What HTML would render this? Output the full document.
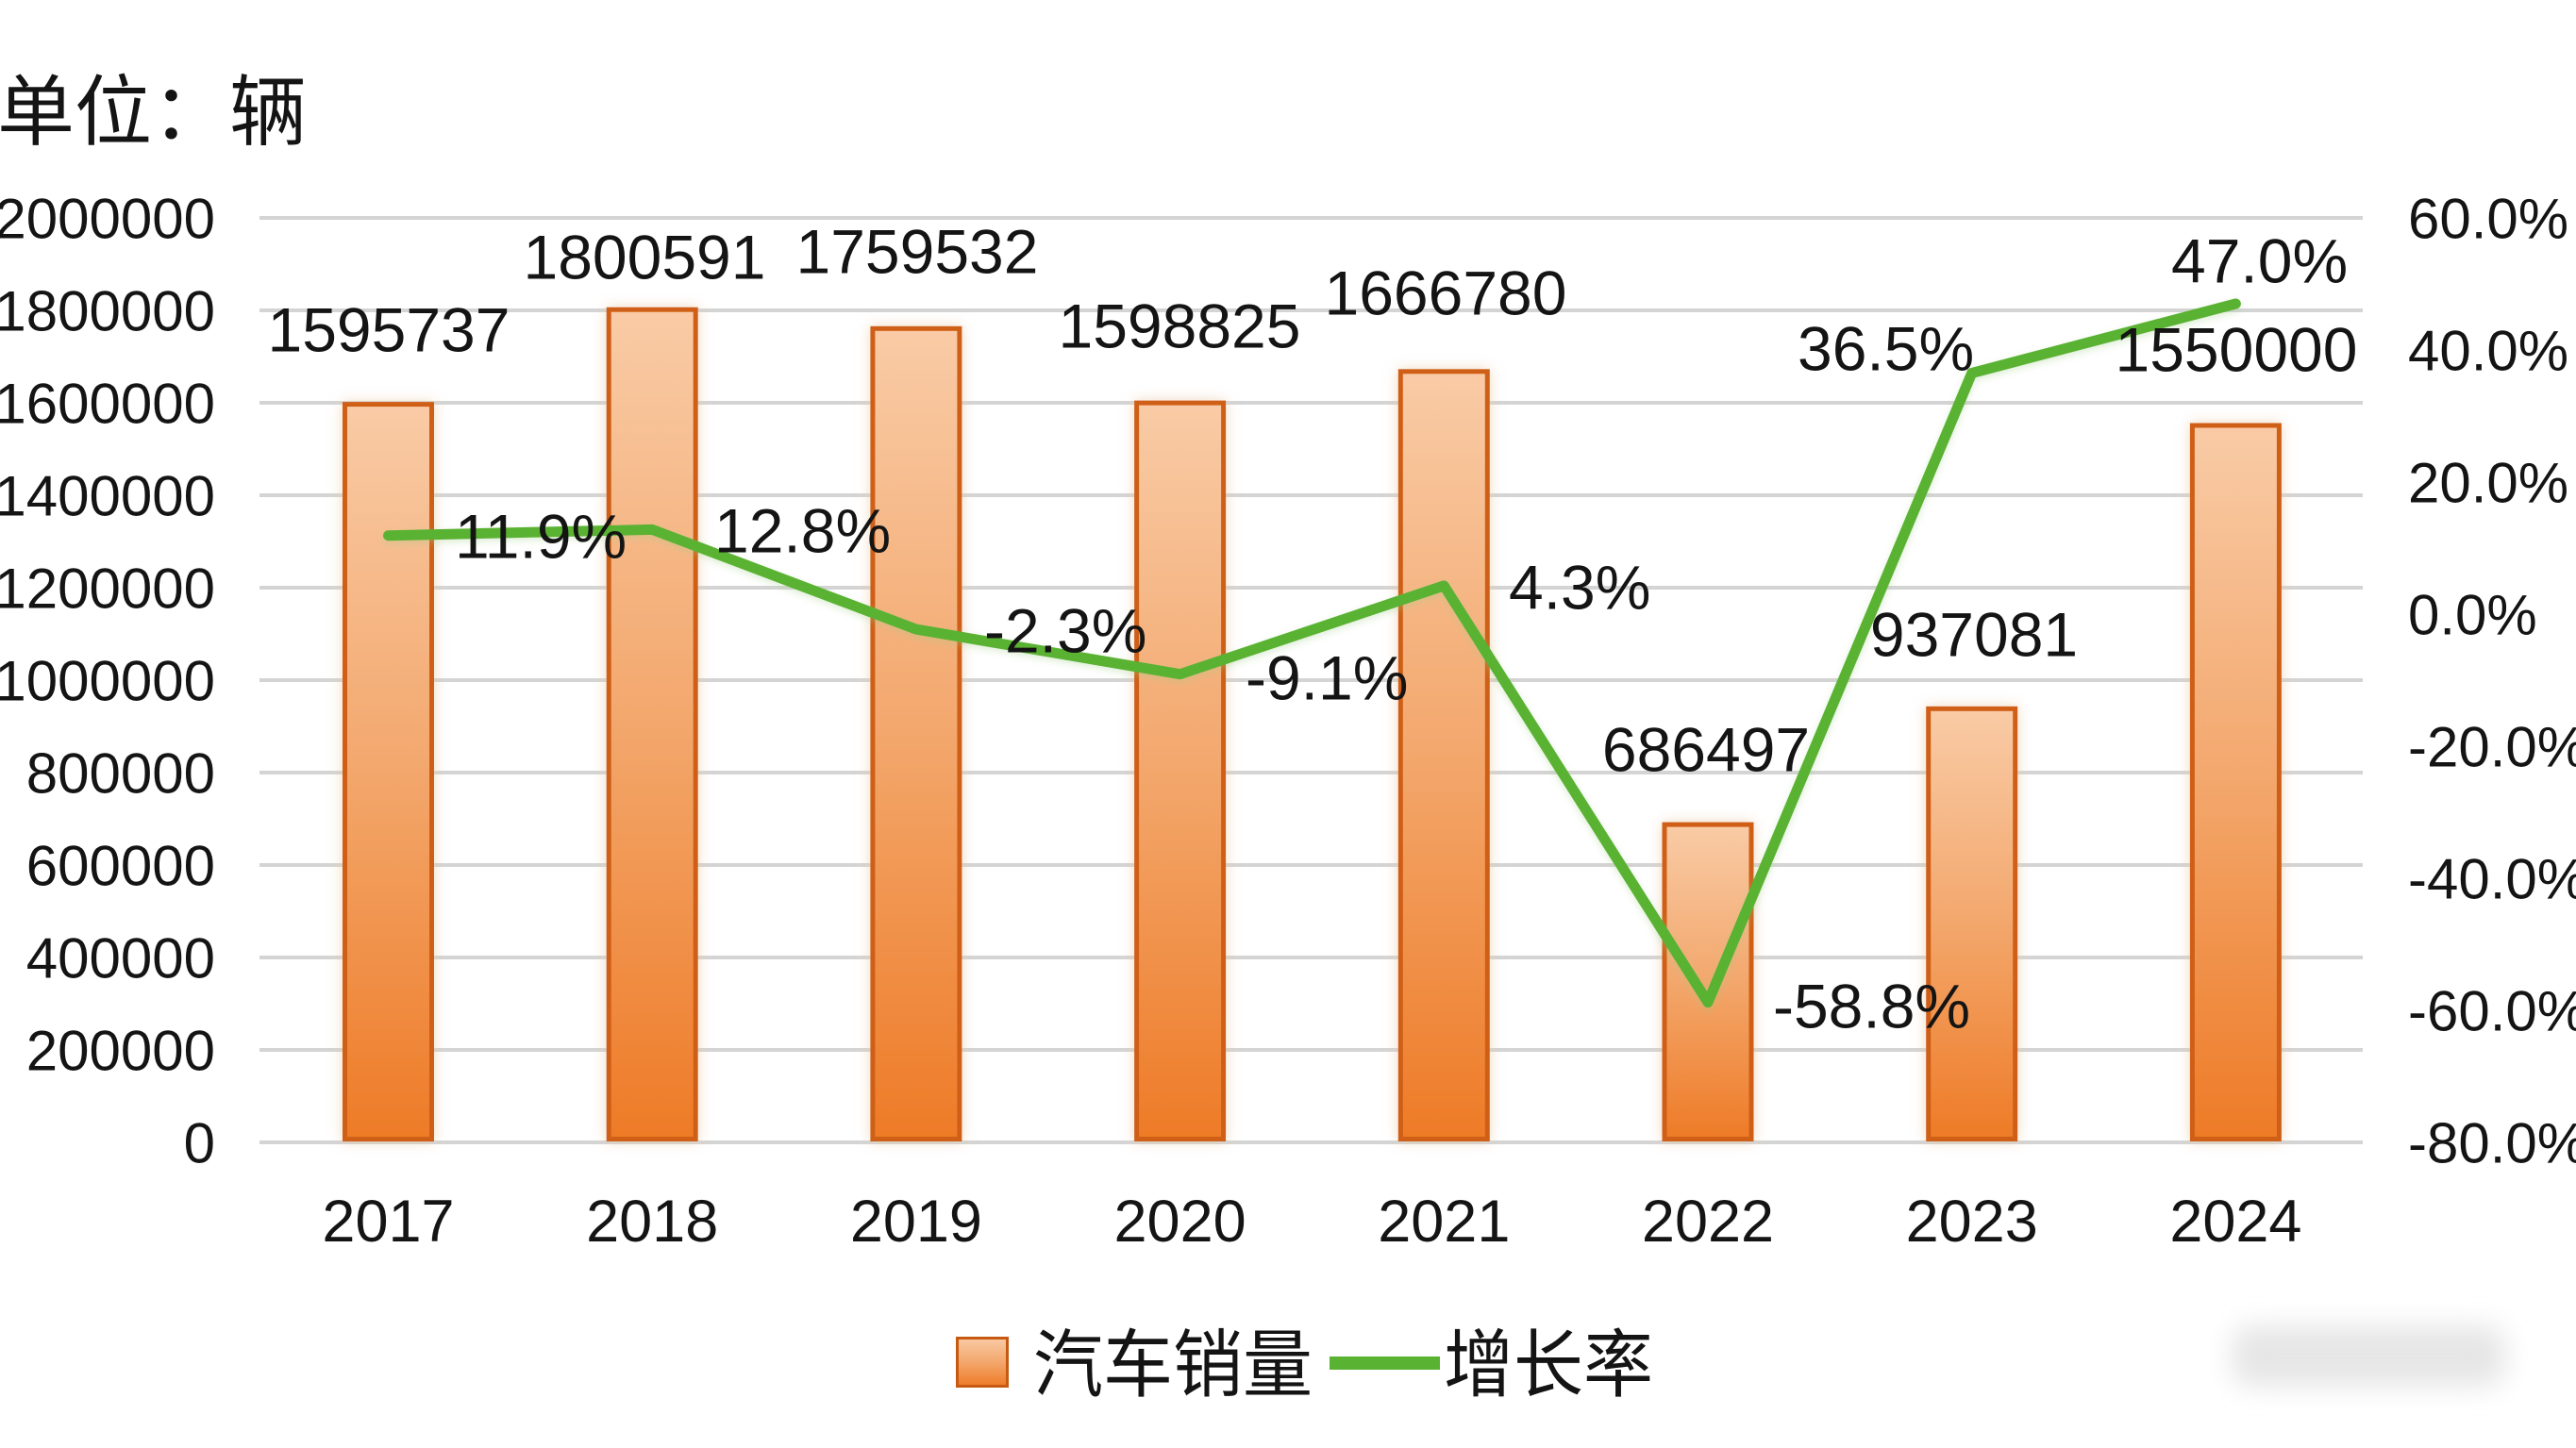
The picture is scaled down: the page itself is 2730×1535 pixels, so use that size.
<!DOCTYPE html>
<html>
<head>
<meta charset="utf-8">
<style>
html,body{margin:0;padding:0;background:#fff;}
body{width:2730px;height:1535px;overflow:hidden;}
svg{display:block;}
text{font-family:"Liberation Sans","Noto Sans CJK SC",sans-serif;fill:#141414;}
.cjk{font-family:"Liberation Sans","Noto Sans CJK SC",sans-serif;}
</style>
</head>
<body>
<svg width="2730" height="1535" viewBox="0 0 2730 1535" xmlns="http://www.w3.org/2000/svg">
<defs>
  <linearGradient id="bg" x1="0" y1="0" x2="0" y2="1">
    <stop offset="0" stop-color="#f9cba6"/>
    <stop offset="0.5" stop-color="#f3a76c"/>
    <stop offset="1" stop-color="#ee7b27"/>
  </linearGradient>
  <filter id="sh" x="-30%" y="-10%" width="160%" height="120%">
    <feDropShadow dx="0" dy="0" stdDeviation="7" flood-color="#e9c9a6" flood-opacity="0.7"/>
  </filter>
  <filter id="lsh" x="-10%" y="-10%" width="120%" height="120%">
    <feDropShadow dx="0" dy="3" stdDeviation="4" flood-color="#9fcf86" flood-opacity="0.35"/>
  </filter>
  <filter id="blur" x="-30%" y="-60%" width="160%" height="220%">
    <feGaussianBlur stdDeviation="14"/>
  </filter>
</defs>

<!-- gridlines -->
<g stroke="#d4d4d4" stroke-width="4">
  <line x1="275" y1="231" x2="2504" y2="231"/>
  <line x1="275" y1="329" x2="2504" y2="329"/>
  <line x1="275" y1="427" x2="2504" y2="427"/>
  <line x1="275" y1="525" x2="2504" y2="525"/>
  <line x1="275" y1="623" x2="2504" y2="623"/>
  <line x1="275" y1="721" x2="2504" y2="721"/>
  <line x1="275" y1="819" x2="2504" y2="819"/>
  <line x1="275" y1="917" x2="2504" y2="917"/>
  <line x1="275" y1="1015" x2="2504" y2="1015"/>
  <line x1="275" y1="1113" x2="2504" y2="1113"/>
  <line x1="275" y1="1211" x2="2504" y2="1211"/>
</g>

<!-- bars -->
<g fill="url(#bg)" stroke="#cf5f16" stroke-width="5" filter="url(#sh)">
  <rect x="365.5" y="428.6" width="92" height="779"/>
  <rect x="645.2" y="328.2" width="92" height="879.3"/>
  <rect x="924.9" y="348.3" width="92" height="859.2"/>
  <rect x="1204.6" y="427.1" width="92" height="780.4"/>
  <rect x="1484.3" y="393.8" width="92" height="813.7"/>
  <rect x="1764" y="874.1" width="92" height="333.4"/>
  <rect x="2043.7" y="751.3" width="92" height="456.2"/>
  <rect x="2323.4" y="451" width="92" height="756.5"/>
</g>

<!-- growth line -->
<polyline fill="none" stroke="#5ab232" stroke-width="11" stroke-linejoin="round" stroke-linecap="round" filter="url(#lsh)"
  points="411.5,567.7 691.2,561.4 970.9,667.1 1250.6,714.7 1530.3,620.9 1810,1062.6 2089.7,395.5 2369.4,322"/>

<!-- title -->
<text class="cjk" x="-3" y="147" font-size="82">单位：辆</text>

<!-- left axis labels -->
<g font-size="60" text-anchor="end">
  <text x="228" y="252.5">2000000</text>
  <text x="228" y="350.5">1800000</text>
  <text x="228" y="448.5">1600000</text>
  <text x="228" y="546.5">1400000</text>
  <text x="228" y="644.5">1200000</text>
  <text x="228" y="742.5">1000000</text>
  <text x="228" y="840.5">800000</text>
  <text x="228" y="938.5">600000</text>
  <text x="228" y="1036.5">400000</text>
  <text x="228" y="1134.5">200000</text>
  <text x="228" y="1232.5">0</text>
</g>

<!-- right axis labels -->
<g font-size="60">
  <text x="2552" y="252.5">60.0%</text>
  <text x="2552" y="392.5">40.0%</text>
  <text x="2552" y="532.5">20.0%</text>
  <text x="2552" y="672.5">0.0%</text>
  <text x="2552" y="812.5">-20.0%</text>
  <text x="2552" y="952.5">-40.0%</text>
  <text x="2552" y="1092.5">-60.0%</text>
  <text x="2552" y="1232.5">-80.0%</text>
</g>

<!-- x axis labels -->
<g font-size="63" text-anchor="middle">
  <text x="411.5" y="1316">2017</text>
  <text x="691.2" y="1316">2018</text>
  <text x="970.9" y="1316">2019</text>
  <text x="1250.6" y="1316">2020</text>
  <text x="1530.3" y="1316">2021</text>
  <text x="1810" y="1316">2022</text>
  <text x="2089.7" y="1316">2023</text>
  <text x="2369.4" y="1316">2024</text>
</g>

<!-- bar value labels -->
<g font-size="66" text-anchor="middle">
  <text x="412" y="372.7">1595737</text>
  <text x="683" y="295.6">1800591</text>
  <text x="972" y="289.6">1759532</text>
  <text x="1250" y="368.6">1598825</text>
  <text x="1532" y="333.6">1666780</text>
  <text x="1808" y="817.6">686497</text>
  <text x="2092" y="695.6">937081</text>
  <text x="2370" y="393.6">1550000</text>
</g>

<!-- growth labels -->
<g font-size="66">
  <text x="482" y="591.6">11.9%</text>
  <text x="757" y="585.6">12.8%</text>
  <text x="1043" y="691.6">-2.3%</text>
  <text x="1320" y="741.6">-9.1%</text>
  <text x="1599" y="645.6">4.3%</text>
  <text x="1879" y="1089.6">-58.8%</text>
  <text x="1905" y="392.6">36.5%</text>
  <text x="2301" y="299.6">47.0%</text>
</g>

<!-- legend -->
<rect x="1014.5" y="1418.5" width="53" height="51" fill="url(#bg)" stroke="#c75a12" stroke-width="3"/>
<text class="cjk" font-size="74" transform="translate(1095,1474) scale(1,1.06)">汽车销量</text>
<line x1="1409" y1="1445" x2="1526" y2="1445" stroke="#5ab232" stroke-width="14"/>
<text class="cjk" font-size="74" transform="translate(1530,1474) scale(1,1.06)">增长率</text>

<!-- watermark blur -->
<rect x="2365" y="1405" width="290" height="65" rx="20" fill="#e6e6e6" filter="url(#blur)"/>
</svg>
</body>
</html>
